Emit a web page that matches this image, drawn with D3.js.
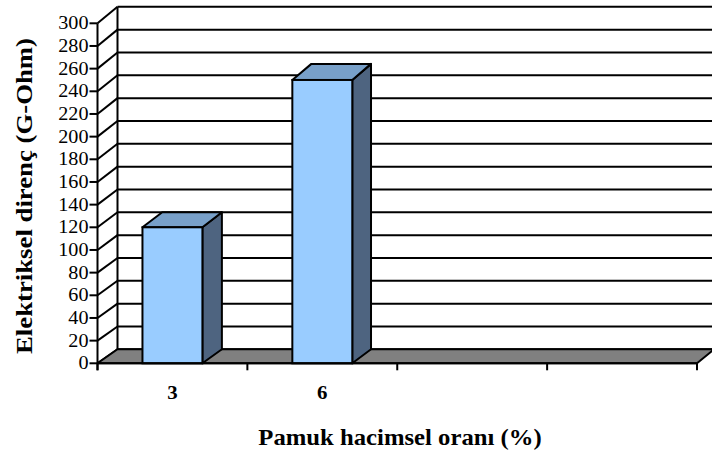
<!DOCTYPE html>
<html>
<head>
<meta charset="utf-8">
<script src="https://cdn.jsdelivr.net/npm/d3@7"></script>
<style>
  html, body { margin: 0; padding: 0; background: #fff; }
  svg { display: block; }
</style>
</head>
<body>
<svg id="chart" width="712" height="455"></svg>
<script>
// Chart data
const categories = ["3", "6", "", ""];
const values = [120, 250];
const yTicks = [0, 20, 40, 60, 80, 100, 120, 140, 160, 180, 200, 220, 240, 260, 280, 300];
const yTitle = "Elektriksel direnç (G-Ohm)";
const xTitle = "Pamuk hacimsel oranı (%)";

const W = 712, H = 455;
const FONT = "'Liberation Serif', 'Times New Roman', Times, serif";
const svg = d3.select("#chart").attr("font-family", FONT);

const y = d3.scaleLinear().domain([0, 300]).range([363.3, 23.3]);
const x = d3.scaleBand().domain(categories.map((c, i) => i)).range([97.5, 697]).paddingInner(0).paddingOuter(0);

// depth projection of the 3D box (slight perspective)
function back(px, py) {
  const dx = 20 - 3 * (px - 97.5) / 600;
  const dy = -14 - 2.5 * (y(0) - py) / 340;
  return [px + dx, py + dy];
}

const LW = 2;
const x0 = x.range()[0], x1 = x.range()[1];
const xRight = W + 10;

// back wall
const bw0 = back(x0, y(300)), bw1 = back(x0, y(0));
svg.append("rect").attr("x", bw0[0]).attr("y", bw0[1]).attr("width", xRight - bw0[0])
  .attr("height", bw1[1] - bw0[1]).attr("fill", "#fff");

// gridlines on the back wall
svg.append("g").selectAll("line").data(yTicks).join("line")
  .attr("x1", d => back(x0, y(d))[0]).attr("y1", d => back(x0, y(d))[1])
  .attr("x2", xRight).attr("y2", d => back(x0, y(d))[1])
  .attr("stroke", "#000").attr("stroke-width", LW);

// back wall left edge
svg.append("line").attr("x1", bw0[0]).attr("y1", bw0[1]).attr("x2", bw1[0]).attr("y2", bw1[1])
  .attr("stroke", "#000").attr("stroke-width", LW);

// left wall diagonals
svg.append("g").selectAll("line").data(yTicks).join("line")
  .attr("x1", x0).attr("y1", d => y(d))
  .attr("x2", d => back(x0, y(d))[0]).attr("y2", d => back(x0, y(d))[1])
  .attr("stroke", "#000").attr("stroke-width", LW);

// floor
const fl = [[x0, y(0)], [x1, y(0)], back(x1, y(0)), back(x0, y(0))];
svg.append("path").attr("d", "M" + fl.join("L") + "Z")
  .attr("fill", "#808080").attr("stroke", "#000").attr("stroke-width", LW).attr("stroke-linejoin", "round");

// bars
const barW = x.bandwidth() * 0.4;
const bars = svg.append("g");
values.forEach((v, i) => {
  const cx = x(i) + x.bandwidth() / 2;
  const l = cx - barW / 2, r = cx + barW / 2;
  const t = y(v), b = y(0);
  const tl = back(l, t), tr = back(r, t), br = back(r, b);
  // side face
  bars.append("path").attr("d", "M" + [[r, t], tr, br, [r, b]].join("L") + "Z")
    .attr("fill", "#4e6480").attr("stroke", "#000").attr("stroke-width", LW).attr("stroke-linejoin", "round");
  // top face
  bars.append("path").attr("d", "M" + [[l, t], tl, tr, [r, t]].join("L") + "Z")
    .attr("fill", "#78a0c9").attr("stroke", "#000").attr("stroke-width", LW).attr("stroke-linejoin", "round");
  // front face
  bars.append("rect").attr("x", l).attr("y", t).attr("width", barW).attr("height", b - t)
    .attr("fill", "#99ccff").attr("stroke", "#000").attr("stroke-width", LW);
});

// y axis
const yAxis = svg.append("g");
yAxis.append("line").attr("x1", x0).attr("y1", y(300)).attr("x2", x0).attr("y2", y(0) + 7)
  .attr("stroke", "#000").attr("stroke-width", LW);
yAxis.selectAll("line.tick").data(yTicks).join("line").attr("class", "tick")
  .attr("x1", x0 - 8).attr("x2", x0).attr("y1", d => y(d)).attr("y2", d => y(d))
  .attr("stroke", "#000").attr("stroke-width", LW);
yAxis.selectAll("text").data(yTicks).join("text")
  .attr("dy", "0.34em")
  .attr("text-anchor", "end").attr("font-size", 18)
  .attr("transform", d => `translate(${x0 - 9},${y(d)}) scale(1.12,1)`)
  .text(d => d);

// x axis
const xAxis = svg.append("g");
xAxis.append("line").attr("x1", x0).attr("y1", y(0)).attr("x2", x1).attr("y2", y(0))
  .attr("stroke", "#000").attr("stroke-width", LW);
const xTickPos = categories.map((c, i) => x(i)).concat([x1]);
xAxis.selectAll("line.tick").data(xTickPos).join("line").attr("class", "tick")
  .attr("x1", d => d).attr("x2", d => d).attr("y1", y(0)).attr("y2", y(0) + 7)
  .attr("stroke", "#000").attr("stroke-width", LW);
xAxis.selectAll("text").data(categories).join("text")
  .attr("transform", (d, i) => `translate(${x(i) + x.bandwidth() / 2},398.5) scale(1.1,1)`)
  .attr("text-anchor", "middle").attr("font-size", 19).attr("font-weight", "bold")
  .text(d => d);

// axis titles
svg.append("text").attr("transform", "translate(400,445) scale(1.075,1)")
  .attr("text-anchor", "middle").attr("font-size", 23).attr("font-weight", "bold")
  .text(xTitle);
svg.append("text").attr("transform", "translate(31.5,196) rotate(-90) scale(1.115,1)")
  .attr("text-anchor", "middle").attr("font-size", 24).attr("font-weight", "bold")
  .text(yTitle);
</script>
</body>
</html>
